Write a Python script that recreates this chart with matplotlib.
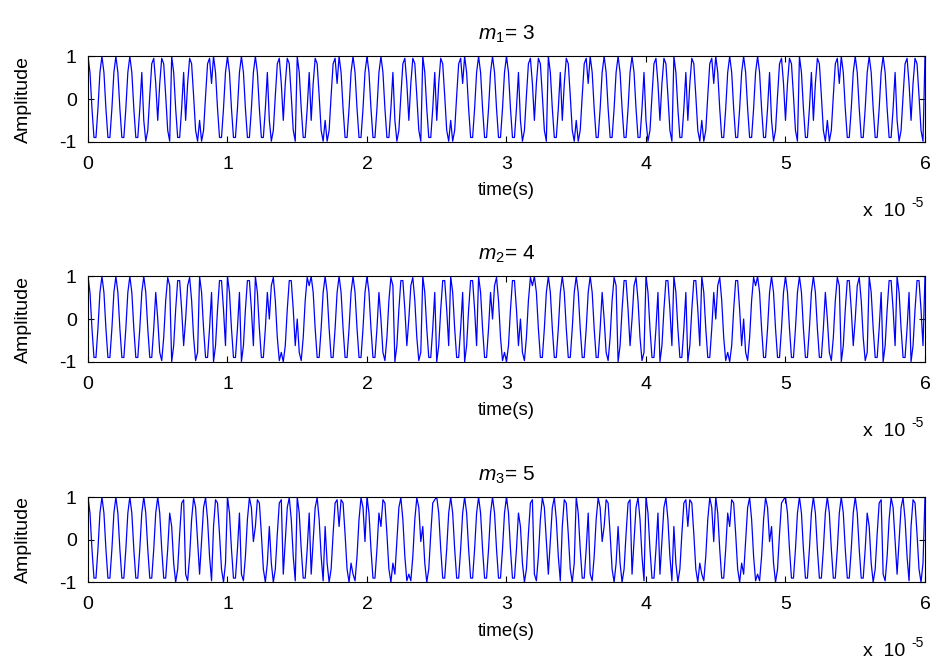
import numpy as np
import matplotlib
matplotlib.use("Agg")
import matplotlib.pyplot as plt
from matplotlib.ticker import FuncFormatter, FixedLocator

plt.rcParams['font.family'] = ['Liberation Sans', 'DejaVu Sans']
plt.rcParams['mathtext.fontset'] = 'custom'
plt.rcParams['mathtext.it'] = 'Liberation Sans:italic'
plt.rcParams['mathtext.rm'] = 'Liberation Sans'

# ---- data (Frank-code phase indices) ----
orders = [3, 4, 5]
titles = [r'$m_{\mathit{1}}$= 3', r'$m_{\mathit{2}}$= 4', r'$m_{\mathit{3}}$= 5']
code_m3 = [0, 0, 0,
           0, 1, 2,
           0, 2, 1]
code_m4 = [0, 0, 0, 0,
           0, 1, 2, 3,
           0, 2, 0, 2,
           0, 3, 2, 1]
code_m5 = [0, 0, 0, 0, 0,
           0, 1, 2, 3, 4,
           0, 2, 4, 1, 3,
           0, 3, 1, 4, 2,
           0, 4, 3, 2, 1]
codes = [code_m3, code_m4, code_m5]
carrier_hz = 1.0e6
chip_s = 1.0e-6
sample_hz = 7.0e6
duration_s = 6.0e-5
xtick_vals = [0, 1, 2, 3, 4, 5, 6]
ytick_vals = [-1, 0, 1]

n = np.arange(int(round(duration_s * sample_hz)) + 1)
t = n / sample_hz
spc = int(round(chip_s * sample_hz))

fig = plt.figure(figsize=(9.35, 6.64), dpi=100)
bottoms = [0.7866, 0.4553, 0.1230]
for k in range(3):
    ax = fig.add_axes([0.0941, bottoms[k], 0.8952, 0.1285])
    M = orders[k]
    code = np.array(codes[k])
    chip = (n // spc) % len(code)
    phase = 2 * np.pi * code[chip] / M
    y = np.cos(2 * np.pi * carrier_hz * t + phase)
    ax.plot(t, y, color='#0000ff', lw=0.9)
    ax.set_xlim(0, duration_s)
    ax.set_ylim(-1, 1)
    ax.xaxis.set_major_locator(FixedLocator([v * 1e-5 for v in xtick_vals]))
    ax.xaxis.set_major_formatter(FuncFormatter(lambda v, p: '%g' % round(v / 1e-5, 6)))
    ax.set_yticks(ytick_vals)
    ax.set_yticklabels(['%g' % v for v in ytick_vals])
    ax.tick_params(direction='in', length=4, width=0.8, top=True, right=True,
                   labelsize=14, colors='black')
    ax.tick_params(axis='x', pad=10)
    ax.tick_params(axis='y', pad=8)
    for s in ax.spines.values():
        s.set_linewidth(0.8)
    ax.set_xlabel('time(s)', fontsize=13.5, labelpad=7)
    ax.set_ylabel('Amplitude', fontsize=14, labelpad=20)
    ax.set_title(titles[k], fontsize=15, pad=12)
    ax.annotate('x  10', xy=(1.0, 0.0), xycoords='axes fraction',
                xytext=(-14, -44), textcoords='offset points',
                ha='right', va='top', fontsize=14)
    ax.annotate('-5', xy=(1.0, 0.0), xycoords='axes fraction',
                xytext=(-1, -39), textcoords='offset points',
                ha='right', va='top', fontsize=10)

fig.savefig('out.png', dpi=100)
